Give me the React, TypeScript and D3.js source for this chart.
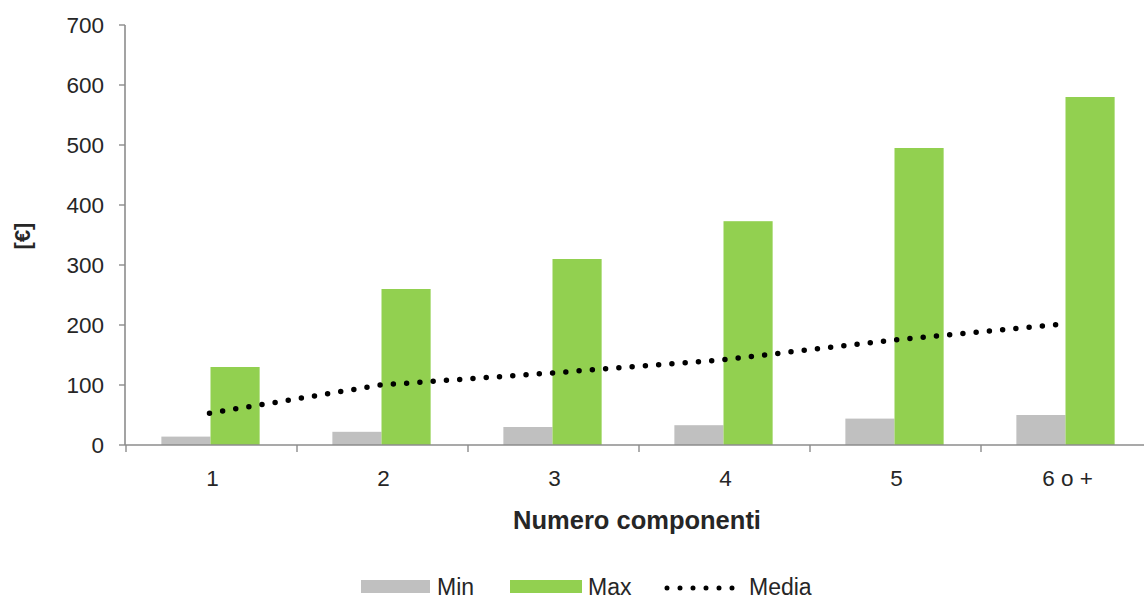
import React from "react";
import * as d3 from "d3";

const categories = ["1", "2", "3", "4", "5", "6 o +"];
const minValues = [14, 22, 30, 33, 44, 50];
const maxValues = [130, 260, 310, 373, 495, 580];
const mediaValues = [53, 100, 120, 142, 175, 202];
const yTicks = [0, 100, 200, 300, 400, 500, 600, 700];

const W = 1144;
const H = 601;
const FONT = "'Liberation Sans', Arial, sans-serif";
const GREEN = "#92D050";
const GRAY = "#C0C0C0";
const AXIS = "#8C8C8C";
const TEXT = "#262626";

export default function App() {
  const x = d3.scaleBand<string>().domain(categories).range([126, 1152]).padding(0);
  const inner = d3
    .scaleBand<string>()
    .domain(["min", "max"])
    .range([0, x.bandwidth()])
    .paddingInner(0)
    .paddingOuter(0.74);
  const y = d3.scaleLinear().domain([0, 700]).range([445, 25]);
  const cx = (c: string) => (x(c) as number) + x.bandwidth() / 2 - 2;

  const line = d3
    .line<number>()
    .x((_, i) => cx(categories[i]))
    .y((d) => y(d));

  const x0 = 125;
  const boundaries = categories.map((c) => x(c) as number);

  return (
    <svg
      width={W}
      height={H}
      style={{ position: "absolute", left: 0, top: 0, background: "#fff" }}
      fontFamily={FONT}
    >
      {/* bars */}
      {categories.map((c, i) => (
        <g key={c} transform={`translate(${(x(c) as number) - 1},0)`}>
          <rect
            x={inner("min")}
            y={y(minValues[i])}
            width={inner.bandwidth()}
            height={y(0) - y(minValues[i])}
            fill={GRAY}
          />
          <rect
            x={inner("max")}
            y={y(maxValues[i])}
            width={inner.bandwidth()}
            height={y(0) - y(maxValues[i])}
            fill={GREEN}
          />
        </g>
      ))}

      {/* axes */}
      <line x1={x0} x2={x0} y1={y(700)} y2={y(0)} stroke={AXIS} strokeWidth={1.6} />
      <line x1={x0} x2={W} y1={y(0)} y2={y(0)} stroke={AXIS} strokeWidth={1.6} />
      {yTicks.map((t) => (
        <g key={t}>
          <line x1={x0 - 6} x2={x0} y1={y(t)} y2={y(t)} stroke={AXIS} strokeWidth={1.4} />
          <text
            x={104}
            y={y(t)}
            textAnchor="end"
            dominantBaseline="central"
            fontSize={22.5}
            fill={TEXT}
          >
            {t}
          </text>
        </g>
      ))}
      {boundaries.map((b, i) => (
        <line key={i} x1={b} x2={b} y1={y(0)} y2={y(0) + 7} stroke={AXIS} strokeWidth={1.4} />
      ))}
      {categories.map((c) => (
        <text
          key={c}
          x={cx(c) + 3}
          y={478}
          textAnchor="middle"
          dominantBaseline="central"
          fontSize={22.5}
          fill={TEXT}
        >
          {c}
        </text>
      ))}

      {/* media line */}
      <path
        d={line(mediaValues) || ""}
        fill="none"
        stroke="#000"
        strokeWidth={5.5}
        strokeLinecap="round"
        strokeDasharray="0 13.3"
      />

      {/* axis titles */}
      <text
        x={637}
        y={520}
        textAnchor="middle"
        dominantBaseline="central"
        fontSize={25.5}
        fontWeight="bold"
        fill={TEXT}
      >
        Numero componenti
      </text>
      <text
        transform={`translate(22,236) rotate(-90)`}
        textAnchor="middle"
        dominantBaseline="central"
        fontSize={22}
        fontWeight="bold"
        fill={TEXT}
      >
        [€]
      </text>

      {/* legend */}
      <rect x={361} y={580} width={69} height={13} fill={GRAY} />
      <text x={437} y={587} dominantBaseline="central" fontSize={23} fill={TEXT}>
        Min
      </text>
      <rect x={510} y={580} width={72} height={13} fill={GREEN} />
      <text x={588} y={587} dominantBaseline="central" fontSize={23} fill={TEXT}>
        Max
      </text>
      <line
        x1={667}
        x2={745}
        y1={588}
        y2={588}
        stroke="#000"
        strokeWidth={5}
        strokeLinecap="round"
        strokeDasharray="0 13"
      />
      <text x={749} y={587} dominantBaseline="central" fontSize={23} fill={TEXT}>
        Media
      </text>
    </svg>
  );
}
